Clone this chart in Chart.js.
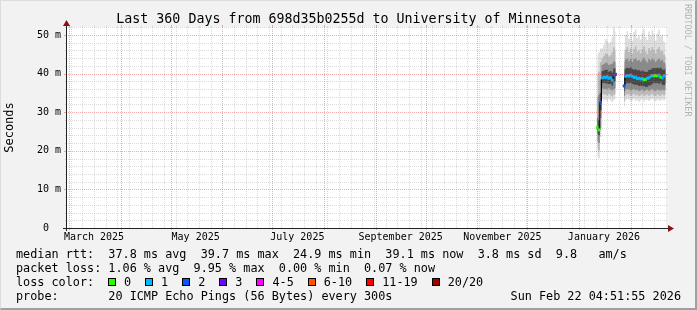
<!DOCTYPE html>
<html><head><meta charset="utf-8">
<script src="https://cdn.jsdelivr.net/npm/chart.js@4/dist/chart.umd.min.js"></script>
<style>
html,body{margin:0;padding:0;background:#f2f2f2;}
#wrap{position:relative;width:697px;height:310px;background:#f2f2f2;overflow:hidden;font-family:"DejaVu Sans Mono",monospace;color:#000;}
#c{position:absolute;left:0;top:0;}
.t{position:absolute;white-space:pre;font-size:11.8px;line-height:14px;}
#title{left:0;width:697px;text-align:center;top:11px;font-size:13.3px;line-height:16px;}
#side{position:absolute;left:683px;top:4px;writing-mode:vertical-rl;font-size:8.5px;line-height:10px;color:#b4b4b4;white-space:pre;}
#loss{position:absolute;left:108px;top:275px;height:14px;display:flex;align-items:center;font-size:11.8px;line-height:14px;white-space:pre;}
.bx{display:inline-block;width:6px;height:6px;border:1px solid #000;margin-right:8px;}
.lb{margin-right:14px;}
#frame{position:absolute;left:0;top:0;width:697px;height:310px;box-sizing:border-box;border-top:1px solid #dcdcdc;border-left:1px solid #dcdcdc;border-right:2px solid #a0a0a0;border-bottom:2px solid #a0a0a0;pointer-events:none;}
</style>
</head><body>
<div id="wrap">
<canvas id="c" width="697" height="310"></canvas>
<div class="t" id="title">Last 360 Days from 698d35b0255d to University of Minnesota</div>
<div id="side">RRDTOOL / TOBI OETIKER</div>
<div class="t" style="left:16px;top:247px;">median rtt:  37.8 ms avg  39.7 ms max  24.9 ms min  39.1 ms now  3.8 ms sd  9.8   am/s</div>
<div class="t" style="left:16px;top:261px;">packet loss: 1.06 % avg  9.95 % max  0.00 % min  0.07 % now</div>
<div class="t" style="left:16px;top:275px;">loss color:</div>
<div id="loss"></div>
<div class="t" style="left:16px;top:289px;">probe:       20 ICMP Echo Pings (56 Bytes) every 300s</div>
<div class="t" style="right:16px;top:289px;">Sun Feb 22 04:51:55 2026</div>
<div id="frame"></div>
</div>
<script>
// ---- time axis: days since 2025-03-01 00:00 ----
const startDay = -1.797;   // Thu Feb 27 2025 04:51:55
const endDay = 358.203;    // Sun Feb 22 2026 04:51:55
const monthStartDays = [0,31,61,92,122,153,184,214,245,275,306,337];
const labelDays = [15,76,137,199,260,321];
const tickLabels = ['March 2025','May 2025','July 2025','September 2025','November 2025','January 2026'];
const yTicks = [0,10,20,30,40,50];

// ---- data (daily samples, ms) ----
const days = [317,318,319,320,321,322,323,324,325,326,327,328,329,330,331,332,333,334,335,336,337,338,339,340,341,342,343,344,345,346,347,348,349,350,351,352,353,354,355,356,357,358];
const median = [26.0,25.4,32.6,38.9,39.1,39.0,39.2,38.8,38.9,38.3,39.6,39.8,null,null,null,null,36.8,39.3,39.5,39.4,39.6,39.3,39.0,39.1,38.7,38.8,38.6,38.7,38.4,38.5,38.8,38.9,39.3,39.5,39.4,39.5,39.4,39.6,39.1,38.9,39.4,39.5];
const lossCount = [0,0,2,1,1,1,1,1,1,1,2,2,null,null,null,null,2,1,1,1,1,1,1,1,1,1,1,1,0,0,1,1,1,1,0,0,0,1,0,1,1,1];
const smokeHi1 = [45.0,45.5,46.5,46.5,47.5,49.0,48.5,47.8,48.2,49.5,52.5,51.0,null,null,null,null,45.4,50.0,51.0,49.0,50.5,48.5,50.8,51.5,49.2,50.0,48.8,50.6,51.6,49.5,48.7,50.9,49.8,51.2,50.2,48.6,50.4,51.4,49.6,50.1,48.4,47.8];
const smokeLo1 = [18.5,18.0,23.5,33.5,33.0,33.2,32.8,33.4,33.0,32.6,33.2,33.5,null,null,null,null,31.4,33.0,33.4,33.2,32.8,33.1,33.5,32.9,33.2,32.7,33.0,33.4,32.8,33.1,33.3,32.9,33.2,33.5,33.0,32.8,33.3,33.1,32.9,33.4,33.0,33.2];
const smokeHi2 = [40.0,40.5,43.0,44.0,44.6,45.3,45.0,44.4,44.8,45.6,46.8,46.0,null,null,null,null,43.0,46.2,46.8,45.6,46.5,45.2,46.4,47.0,45.7,46.1,45.3,46.3,47.1,45.8,45.1,46.6,45.9,46.9,46.2,45.2,46.3,46.9,45.8,46.0,45.0,44.6];
const smokeLo2 = [20.5,20.0,26.0,34.8,34.5,34.6,34.3,34.7,34.4,34.1,34.5,34.8,null,null,null,null,32.8,34.4,34.7,34.6,34.2,34.5,34.8,34.3,34.5,34.1,34.3,34.7,34.1,34.4,34.6,34.2,34.5,34.8,34.3,34.1,34.6,34.4,34.2,34.7,34.3,34.5];
const smokeHi3 = [34.0,34.5,38.5,42.2,42.5,42.9,42.7,42.2,42.4,42.6,43.2,43.0,null,null,null,null,41.0,43.6,43.9,43.2,43.8,43.0,43.7,44.0,43.3,43.5,43.0,43.6,44.1,43.4,42.9,43.8,43.4,43.9,43.6,43.0,43.5,43.9,43.3,43.6,42.9,42.7];
const smokeLo3 = [22.5,22.0,28.5,36.2,36.0,36.1,35.9,36.2,35.8,35.6,36.0,36.3,null,null,null,null,34.2,35.8,36.0,35.9,35.6,35.8,36.0,35.7,35.8,35.5,35.6,35.9,35.4,35.7,35.9,35.5,35.8,36.0,35.6,35.5,35.9,35.7,35.6,35.9,35.6,35.8];
const smokeHi4 = [28.5,28.0,35.0,40.6,40.8,40.9,41.0,40.5,40.7,40.3,41.3,41.4,null,null,null,null,39.0,41.3,41.5,41.4,41.6,41.2,41.0,41.1,40.8,40.9,40.6,40.8,40.6,40.4,40.5,40.9,41.0,41.3,41.5,41.4,41.5,41.4,41.6,41.1,40.9,41.4];
const smokeLo4 = [24.5,24.0,30.5,37.5,37.6,37.5,37.4,37.3,37.4,36.9,37.8,38.0,null,null,null,null,35.4,37.4,37.6,37.5,37.6,37.4,37.2,37.1,37.1,36.8,36.9,36.7,36.8,36.5,36.6,36.9,37.0,37.4,37.6,37.5,37.6,37.4,37.7,37.2,37.0,37.4];

const lossLabels = ['0','1','2','3','4-5','6-10','11-19','20/20'];
const lossColors = ['#26ff00','#00b8ff','#0059ff','#7000ff','#ff00ff','#ff5500','#ff0000','#a10000'];
const smokeColors = ['#dedede','#bababa','#8a8a8a','#474747'];

// legend boxes
const lossDiv = document.getElementById('loss');
lossLabels.forEach((l,i)=>{
  const b=document.createElement('span'); b.className='bx'; b.style.background=lossColors[i]; lossDiv.appendChild(b);
  const t=document.createElement('span'); t.className='lb'; t.textContent=l; lossDiv.appendChild(t);
});

function lossIndex(n){ if(n==null) return 0; if(n<=3) return n; if(n<=5) return 4; if(n<=10) return 5; if(n<=19) return 6; return 7; }
const pts = arr => days.map((d,i)=>({x:d, y:arr[i]}));

const bandDs = (lo, hi, loIdx, color, order) => [
  {data:pts(lo), borderColor:'rgba(0,0,0,0)', borderWidth:0, pointRadius:0, stepped:'middle', fill:false, order:order, spanGaps:false},
  {data:pts(hi), borderColor:'rgba(0,0,0,0)', borderWidth:0, pointRadius:0, stepped:'middle', fill:loIdx, backgroundColor:color, order:order, spanGaps:false}
];

const datasets = [
  {data:pts(median), showLine:false, pointStyle:'line', pointRadius:1.3, pointBorderWidth:3,
   pointBorderColor: median.map((v,i)=>lossColors[lossIndex(lossCount[i])]), order:0},
  {data:pts(median), borderColor:'#000', borderWidth:1, pointRadius:0, stepped:'middle', fill:false, order:1, spanGaps:false},
  ...bandDs(smokeLo4, smokeHi4, 2, smokeColors[3], 2),
  ...bandDs(smokeLo3, smokeHi3, 4, smokeColors[2], 3),
  ...bandDs(smokeLo2, smokeHi2, 6, smokeColors[1], 4),
  ...bandDs(smokeLo1, smokeHi1, 8, smokeColors[0], 5)
];

const rrdPlugin = {
  id:'rrd',
  beforeDraw(chart){
    const {ctx, chartArea:a} = chart;
    ctx.save(); ctx.fillStyle='#ffffff'; ctx.fillRect(a.left, a.top, a.right-a.left, a.bottom-a.top); ctx.restore();
  },
  afterDatasetsDraw(chart){
    const {ctx, chartArea:a, scales:{x,y}} = chart;
    const minor='rgba(143,143,143,0.32)', major='rgba(222,48,48,0.40)';
    ctx.save(); ctx.lineWidth=1;
    const hline=(v,c,ext)=>{
      const py=Math.round(y.getPixelForValue(v))+0.5;
      ctx.strokeStyle=c; ctx.setLineDash([1,1]); ctx.beginPath(); ctx.moveTo(a.left,py); ctx.lineTo(a.right,py); ctx.stroke();
      ctx.setLineDash([]); ctx.beginPath(); ctx.moveTo(a.left-ext,py); ctx.lineTo(a.left,py); ctx.moveTo(a.right,py); ctx.lineTo(a.right+ext,py); ctx.stroke();
    };
    const vline=(d,c,ext)=>{
      const px=Math.round(x.getPixelForValue(d))+0.5;
      if(px<a.left||px>a.right) return;
      ctx.strokeStyle=c; ctx.setLineDash([1,1]); ctx.beginPath(); ctx.moveTo(px,a.bottom); ctx.lineTo(px,a.top); ctx.stroke();
      ctx.setLineDash([]); ctx.beginPath(); ctx.moveTo(px,a.top-ext); ctx.lineTo(px,a.top); ctx.moveTo(px,a.bottom); ctx.lineTo(px,a.bottom+ext); ctx.stroke();
    };
    for(let v=2; v<=52; v+=2){ if(v%10!==0) hline(v,minor,1); }
    for(let d=1; d<=endDay; d+=7){ if(monthStartDays.indexOf(d)<0) vline(d,minor,1); }
    yTicks.forEach(v=>{ if(v>0) hline(v,major,2); });
    monthStartDays.forEach(d=>vline(d,major,2));
    ctx.restore();
  },
  afterDraw(chart){
    const {ctx, chartArea:a} = chart;
    ctx.save();
    ctx.strokeStyle='#222'; ctx.lineWidth=1;
    const by=a.bottom+0.5, lx=a.left+0.5;
    ctx.beginPath(); ctx.moveTo(a.left-3,by); ctx.lineTo(a.right+3,by); ctx.stroke();
    ctx.beginPath(); ctx.moveTo(lx,a.bottom+3); ctx.lineTo(lx,a.top-3); ctx.stroke();
    ctx.fillStyle='#8b1010';
    ctx.beginPath(); ctx.moveTo(a.right+2,by-3.5); ctx.lineTo(a.right+8,by); ctx.lineTo(a.right+2,by+3.5); ctx.closePath(); ctx.fill();
    ctx.beginPath(); ctx.moveTo(lx-3.5,a.top-1); ctx.lineTo(lx,a.top-7); ctx.lineTo(lx+3.5,a.top-1); ctx.closePath(); ctx.fill();
    ctx.restore();
  }
};

const mono = 'DejaVu Sans Mono';
new Chart(document.getElementById('c'), {
  type:'line',
  data:{datasets},
  plugins:[rrdPlugin],
  options:{
    responsive:false, animation:false, devicePixelRatio:1, events:[],
    layout:{padding:{top:27,right:31,left:0,bottom:0}},
    plugins:{legend:{display:false}, tooltip:{enabled:false}, title:{display:false}},
    scales:{
      x:{type:'linear', min:startDay, max:endDay, offset:false,
         grid:{display:false, drawTicks:false}, border:{display:false},
         afterBuildTicks(s){ s.ticks = labelDays.map(v=>({value:v})); },
         afterFit(s){ s.height = 82; },
         ticks:{autoSkip:false, maxRotation:0, minRotation:0, padding:3, color:'#000', font:{family:mono,size:10},
                callback:(v,i)=>tickLabels[i]}},
      y:{type:'linear', min:0, max:52.07,
         grid:{display:false, drawTicks:false}, border:{display:false},
         afterBuildTicks(s){ s.ticks = yTicks.map(v=>({value:v})); },
         afterFit(s){ s.width = 66; },
         ticks:{padding:5, color:'#000', font:{family:mono,size:10}, callback:(v)=> v===0 ? '0  ' : v+' m'},
         title:{display:true, text:'Seconds', color:'#000', font:{family:mono,size:12}, padding:{top:3,bottom:0}}}
    }
  }
});
</script>
</body></html>
